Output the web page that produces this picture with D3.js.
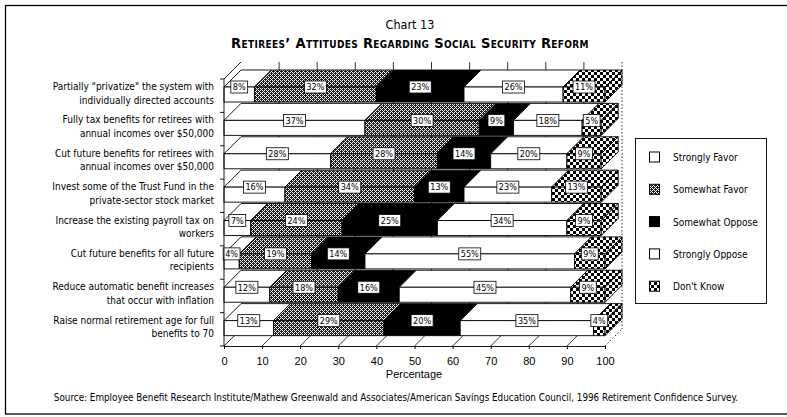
<!DOCTYPE html>
<html>
<head>
<meta charset="utf-8">
<script src="https://cdn.jsdelivr.net/npm/d3@7"></script>
<style>
  body { margin: 0; background: #fff; }
  svg { display: block; }
</style>
</head>
<body>
<svg id="chart" width="787" height="417"></svg>
<script>
// Survey proposals (two-line labels) and response shares in percent
const categories = [
  ["Partially \"privatize\" the system with", "individually directed accounts"],
  ["Fully tax benefits for retirees with", "annual incomes over $50,000"],
  ["Cut future benefits for retirees with", "annual incomes over $50,000"],
  ["Invest some of the Trust Fund in the", "private-sector stock market"],
  ["Increase the existing payroll tax on", "workers"],
  ["Cut future benefits for all future", "recipients"],
  ["Reduce automatic benefit increases", "that occur with inflation"],
  ["Raise normal retirement age for full", "benefits to 70"]
];
const responses = ["Strongly Favor", "Somewhat Favor", "Somewhat Oppose", "Strongly Oppose", "Don't Know"];
const stronglyFavor  = [8, 37, 28, 16, 7, 4, 12, 13];
const somewhatFavor  = [32, 30, 28, 34, 24, 19, 18, 29];
const somewhatOppose = [23, 9, 14, 13, 25, 14, 16, 20];
const stronglyOppose = [26, 18, 20, 23, 34, 55, 45, 35];
const dontKnow       = [11, 5, 9, 13, 9, 9, 9, 4];
const xTicks = [0, 10, 20, 30, 40, 50, 60, 70, 80, 90, 100];

const narrow = "'Liberation Sans Narrow','DejaVu Sans Condensed','Roboto Condensed','Arial Narrow',sans-serif";
const plain = "'Liberation Sans',Arial,Helvetica,sans-serif";

const svg = d3.select("#chart");
const defs = svg.append("defs");

// fine stipple for "Somewhat Favor"
const stip = defs.append("pattern").attr("id", "stipple")
  .attr("patternUnits", "userSpaceOnUse").attr("width", 4).attr("height", 4);
stip.append("rect").attr("width", 4).attr("height", 4).attr("fill", "#1a1a1a");
[[0,0],[2,0],[1,1],[0,2],[2,2],[3,3]].forEach(([a,b]) =>
  stip.append("rect").attr("x", a).attr("y", b).attr("width", 1).attr("height", 1).attr("fill", "#fff"));

// coarse checkerboard for "Don't Know"
const chk = defs.append("pattern").attr("id", "checker")
  .attr("patternUnits", "userSpaceOnUse").attr("width", 6).attr("height", 6);
chk.append("rect").attr("width", 6).attr("height", 6).attr("fill", "#fff");
chk.append("rect").attr("width", 3).attr("height", 3).attr("fill", "#000");
chk.append("rect").attr("x", 3).attr("y", 3).attr("width", 3).attr("height", 3).attr("fill", "#000");

const fills = {
  "Strongly Favor": "#fff",
  "Somewhat Favor": "url(#stipple)",
  "Somewhat Oppose": "#000",
  "Strongly Oppose": "#fff",
  "Don't Know": "url(#checker)"
};

// outer frame
svg.append("rect").attr("x", 5.5).attr("y", 5.5).attr("width", 820).attr("height", 408.5)
  .attr("fill", "none").attr("stroke", "#000").attr("stroke-width", 1.3);

// titles
svg.append("text").attr("x", 410).attr("y", 29).attr("text-anchor", "middle")
  .attr("font-family", narrow).attr("font-size", 12.5).text("Chart 13");
svg.append("text").attr("x", 410).attr("y", 48).attr("text-anchor", "middle")
  .attr("font-family", narrow).attr("font-weight", "bold").attr("font-size", 14.5)
  .style("font-variant", "small-caps").attr("letter-spacing", 0.35)
  .text("Retirees\u2019 Attitudes Regarding Social Security Reform");

// scales and 3-D depth
const DX = 17, DY = 17;
const x = d3.scaleLinear().domain([0, 100]).range([224, 605]).clamp(true);
const y = d3.scaleBand().domain(d3.range(categories.length)).range([79, 346]);
const bw = y.bandwidth();
const frontTop = i => y(i) + bw * 0.24;
const frontH = bw * 0.45;
const floorY = y.range()[1];

const grid = svg.append("g");
// back-wall gridlines
grid.selectAll("line.g").data(xTicks.slice(1, -1)).join("line")
  .attr("x1", d => x(d) + DX).attr("x2", d => x(d) + DX)
  .attr("y1", y.range()[0] - DY).attr("y2", floorY - DY)
  .attr("stroke", "#000").attr("stroke-width", 0.8);
// right back edge
grid.append("line").attr("x1", x(100) + DX).attr("x2", x(100) + DX)
  .attr("y1", y.range()[0] - DY).attr("y2", floorY - DY)
  .attr("stroke", "#000").attr("stroke-width", 0.8).attr("stroke-dasharray", "1.5,2");
// floor diagonals
grid.selectAll("line.f").data(xTicks).join("line")
  .attr("x1", d => x(d)).attr("x2", d => x(d) + DX)
  .attr("y1", floorY).attr("y2", floorY - DY)
  .attr("stroke", "#000").attr("stroke-width", 0.8)
  .attr("stroke-dasharray", d => d === 100 ? "1.5,2" : null);
// left wall top edge
grid.append("line").attr("x1", x(0)).attr("y1", y.range()[0]).attr("x2", x(0) + DX).attr("y2", y.range()[0] - DY)
  .attr("stroke", "#000").attr("stroke-width", 0.9);

// stacked 3-D bars
const table = categories.map((c, i) => ({
  idx: i,
  "Strongly Favor": stronglyFavor[i],
  "Somewhat Favor": somewhatFavor[i],
  "Somewhat Oppose": somewhatOppose[i],
  "Strongly Oppose": stronglyOppose[i],
  "Don't Know": dontKnow[i]
}));
const series = d3.stack().keys(responses)(table);

const bars = svg.append("g").attr("stroke", "#000").attr("stroke-width", 0.9).attr("stroke-linejoin", "round");
categories.forEach((c, i) => {
  const ft = frontTop(i), fb = ft + frontH;
  const g = bars.append("g");
  series.forEach((s, k) => {
    const d = s[i];
    const x0 = x(d[0]), x1 = x(d[1]);
    g.append("path")
      .attr("d", `M${x0},${ft}L${x1},${ft}L${x1 + DX},${ft - DY}L${x0 + DX},${ft - DY}Z`)
      .attr("fill", fills[s.key]);
    g.append("rect").attr("x", x0).attr("y", ft).attr("width", x1 - x0).attr("height", frontH)
      .attr("fill", fills[s.key]);
    if (k === series.length - 1) {
      g.append("path")
        .attr("d", `M${x1},${ft}L${x1 + DX},${ft - DY}L${x1 + DX},${fb - DY}L${x1},${fb}Z`)
        .attr("fill", fills[s.key]);
    }
  });
});

// value labels on each segment
const labels = svg.append("g");
categories.forEach((c, i) => {
  const ft = frontTop(i);
  series.forEach(s => {
    const d = s[i];
    const v = d.data[s.key];
    const cx = (x(d[0]) + x(d[1])) / 2;
    const lg = labels.append("g");
    const t = lg.append("text").attr("x", cx).attr("y", ft + 3.3).attr("text-anchor", "middle")
      .attr("font-family", narrow).attr("font-size", 9).text(v + "%");
    const w = t.node().getComputedTextLength() + 4;
    lg.insert("rect", "text").attr("x", cx - w / 2).attr("y", ft - 6).attr("width", w).attr("height", 12)
      .attr("fill", "#fff").attr("stroke", "#000").attr("stroke-width", 0.8);
  });
});

// left axis
const ax = svg.append("g").attr("stroke", "#000").attr("stroke-width", 0.9);
ax.append("line").attr("x1", x(0)).attr("x2", x(0)).attr("y1", y.range()[0]).attr("y2", floorY);
ax.selectAll("line.t").data(d3.range(categories.length + 1)).join("line")
  .attr("x1", x(0) - 4).attr("x2", x(0))
  .attr("y1", i => y.range()[0] + i * bw).attr("y2", i => y.range()[0] + i * bw);

// category labels
const cl = svg.append("g").attr("font-family", narrow).attr("font-size", 10).attr("text-anchor", "end");
categories.forEach((c, i) => {
  const ft = frontTop(i);
  cl.append("text").attr("x", 214).attr("y", ft + 3).text(c[0]);
  cl.append("text").attr("x", 214).attr("y", ft + 16.5).text(c[1]);
});

// bottom axis
const xAxis = d3.axisBottom(x).tickValues(xTicks).tickSize(3).tickPadding(8).tickFormat(d3.format("d"));
const xa = svg.append("g").attr("transform", `translate(0,${floorY})`).call(xAxis);
xa.select(".domain").attr("stroke", "#000").attr("stroke-width", 0.9);
xa.selectAll(".tick line").attr("stroke", "#000");
xa.selectAll(".tick text").attr("font-family", plain).attr("font-size", 11).attr("fill", "#000");
svg.append("text").attr("x", 414).attr("y", 378).attr("text-anchor", "middle")
  .attr("font-family", plain).attr("font-size", 11).text("Percentage");

// legend
const leg = svg.append("g");
leg.append("rect").attr("x", 635.5).attr("y", 138.5).attr("width", 131).attr("height", 165)
  .attr("fill", "#fff").attr("stroke", "#000").attr("stroke-width", 0.9);
responses.forEach((r, k) => {
  const cy = 157 + k * 32.3;
  leg.append("rect").attr("x", 649.5).attr("y", cy - 5).attr("width", 10).attr("height", 10)
    .attr("fill", fills[r]).attr("stroke", "#000").attr("stroke-width", 1);
  leg.append("text").attr("x", 673).attr("y", cy + 4).attr("font-family", narrow).attr("font-size", 10).text(r);
});

// source note
svg.append("text").attr("x", 396).attr("y", 401).attr("text-anchor", "middle")
  .attr("font-family", narrow).attr("font-size", 9.8)
  .text("Source: Employee Benefit Research Institute/Mathew Greenwald and Associates/American Savings Education Council, 1996 Retirement Confidence Survey.");
</script>
</body>
</html>
